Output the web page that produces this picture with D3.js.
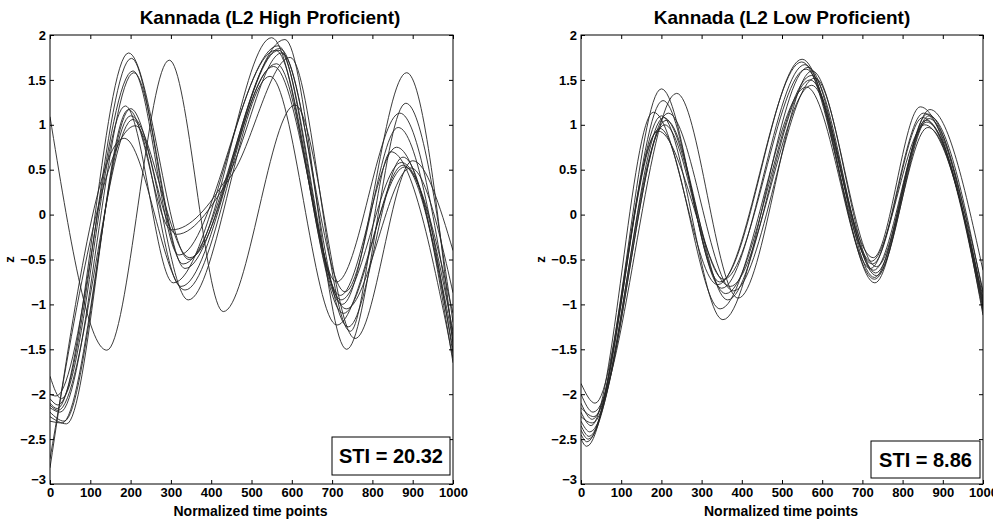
<!DOCTYPE html>
<html>
<head>
<meta charset="utf-8">
<script src="https://cdn.jsdelivr.net/npm/d3@7"></script>
<style>
  body { margin: 0; background: #fff; }
  svg { display: block; font-family: "Liberation Sans", Arial, sans-serif; font-weight: bold; }
</style>
</head>
<body>
<svg id="chart"></svg>
<script>
const width = 993;
const height = 519;

// panel titles and STI values
const titles = ["Kannada (L2 High Proficient)", "Kannada (L2 Low Proficient)"];
const stiValues = ["20.32", "8.86"];
const xLabel = "Normalized time points";
const yLabel = "z";

const xTicks = [0, 100, 200, 300, 400, 500, 600, 700, 800, 900, 1000];
const yTicks = [2, 1.5, 1, 0.5, 0, -0.5, -1, -1.5, -2, -2.5, -3];

// key points (time, z) of each contour: start, turning points, end
const highCurves = [
  [[0, -2.10], [18, -2.16], [195, 1.80], [345, -0.50], [550, 1.97], [725, -1.00], [885, 1.58], [1000, -1.45]],
  [[0, -2.05], [20, -2.12], [202, 1.74], [330, -0.55], [583, 1.95], [736, -1.50], [883, 1.24], [1000, -1.20]],
  [[0, -2.00], [15, -2.02], [206, 1.60], [320, -0.45], [566, 1.88], [711, -0.75], [868, 1.13], [1000, -1.35]],
  [[0, -2.15], [25, -2.20], [208, 1.58], [335, -0.60], [570, 1.85], [732, -0.86], [864, 0.97], [1000, -1.55]],
  [[0, -1.80], [28, -2.05], [187, 1.21], [306, -0.76], [560, 1.83], [720, -0.90], [860, 0.75], [1000, -1.40]],
  [[0, -2.20], [35, -2.30], [200, 1.18], [314, -0.22], [455, 0.47], [596, 1.75], [745, -1.30], [846, 0.70], [1000, -1.60]],
  [[0, -2.25], [41, -2.33], [195, 1.17], [302, -0.17], [440, 0.42], [575, 1.80], [740, -1.25], [876, 0.64], [1000, -1.65]],
  [[0, -2.12], [20, -2.18], [206, 1.06], [325, -0.80], [562, 1.68], [728, -1.10], [876, 0.55], [1000, -1.50]],
  [[0, -2.72], [212, 0.99], [343, -0.95], [546, 1.54], [712, -1.23], [880, 0.53], [1000, -1.30]],
  [[0, -2.82], [184, 0.85], [335, -0.84], [555, 1.65], [735, -1.05], [895, 0.52], [1000, -0.87]],
  [[0, -2.30], [30, -2.32], [200, 1.10], [347, -0.48], [568, 1.83], [722, -0.95], [872, 0.58], [1000, -1.10]],
  [[0, 1.09], [141, -1.51], [296, 1.72], [430, -1.08], [608, 1.22], [757, -1.38], [900, 0.60], [1000, -0.40]]
];

const lowCurves = [
  [[0, -1.88], [35, -2.10], [200, 1.40], [345, -0.75], [550, 1.73], [727, -0.48], [844, 1.20], [1000, -1.00]],
  [[0, -2.00], [30, -2.20], [238, 1.35], [391, -0.93], [575, 1.60], [735, -0.58], [868, 1.17], [1000, -0.62]],
  [[0, -2.10], [28, -2.28], [204, 1.27], [350, -0.82], [557, 1.67], [731, -0.76], [862, 1.12], [1000, -1.12]],
  [[0, -2.20], [25, -2.35], [180, 1.14], [340, -0.78], [549, 1.70], [725, -0.55], [850, 1.08], [1000, -0.95]],
  [[0, -2.30], [22, -2.42], [217, 1.13], [379, -0.85], [582, 1.52], [733, -0.65], [866, 1.10], [1000, -0.88]],
  [[0, -2.35], [20, -2.47], [200, 1.10], [353, -1.17], [565, 1.64], [730, -0.70], [858, 1.05], [1000, -1.05]],
  [[0, -2.40], [18, -2.50], [208, 1.00], [360, -0.88], [574, 1.55], [728, -0.62], [860, 1.03], [1000, -1.02]],
  [[0, -2.45], [15, -2.53], [196, 0.96], [346, -1.05], [561, 1.42], [730, -0.72], [863, 0.97], [1000, -1.08]],
  [[0, -2.50], [14, -2.58], [192, 0.93], [371, -0.80], [574, 1.44], [722, -0.52], [855, 1.00], [1000, -0.92]],
  [[0, -2.25], [28, -2.32], [212, 1.05], [365, -0.95], [570, 1.50], [735, -0.68], [865, 1.07], [1000, -0.98]],
  [[0, -2.15], [32, -2.25], [206, 1.08], [355, -0.72], [560, 1.62], [720, -0.60], [852, 1.13], [1000, -0.85]]
];

const svg = d3.select("#chart").attr("width", width).attr("height", height);
svg.append("rect").attr("width", width).attr("height", height).attr("fill", "#fff");

const panels = [
  { left: 50, right: 453, curves: highCurves, title: titles[0], titleX: 270, sti: stiValues[0], box: [332, 437, 118, 38] },
  { left: 581, right: 983, curves: lowCurves, title: titles[1], titleX: 782, sti: stiValues[1], box: [871, 441, 109, 37] }
];
const plotTop = 35, plotBottom = 484;

panels.forEach(function (p, i) {
  const x = d3.scaleLinear().domain([0, 1000]).range([p.left, p.right]);
  const y = d3.scaleLinear().domain([-3, 2]).range([plotBottom, plotTop]);
  const g = svg.append("g");

  g.append("clipPath").attr("id", "clip" + i)
    .append("rect")
    .attr("x", p.left).attr("y", plotTop)
    .attr("width", p.right - p.left).attr("height", plotBottom - plotTop);

  // contours
  const line = d3.line()
    .x(d => x(d[0]))
    .y(d => y(d[1]))
    .curve(d3.curveMonotoneX);

  g.append("g")
    .attr("clip-path", "url(#clip" + i + ")")
    .selectAll("path")
    .data(p.curves)
    .enter()
    .append("path")
    .attr("d", line)
    .attr("fill", "none")
    .attr("stroke", "#262626")
    .attr("stroke-width", 0.9);

  // axes, ticks inside like matlab
  const tick = 4;
  const axB = g.append("g").attr("transform", `translate(0,${plotBottom})`)
    .call(d3.axisBottom(x).tickValues(xTicks).tickSize(-tick).tickPadding(4).tickFormat(d3.format("d")));
  const axT = g.append("g").attr("transform", `translate(0,${plotTop})`)
    .call(d3.axisTop(x).tickValues(xTicks).tickSize(-tick).tickFormat(""));
  const axL = g.append("g").attr("transform", `translate(${p.left},0)`)
    .call(d3.axisLeft(y).tickValues(yTicks).tickSize(-tick).tickPadding(4).tickFormat(d3.format("")));
  const axR = g.append("g").attr("transform", `translate(${p.right},0)`)
    .call(d3.axisRight(y).tickValues(yTicks).tickSize(-tick).tickFormat(""));

  [axB, axT, axL, axR].forEach(function (ax) {
    ax.select(".domain").remove();
    ax.selectAll("line").attr("stroke", "#000");
    ax.selectAll("text")
      .attr("fill", "#000")
      .style("font-family", "'Liberation Sans', Arial, sans-serif")
      .style("font-weight", "bold")
      .style("font-size", "13px");
  });
  axB.selectAll("text").attr("dy", "0.7em");
  axL.selectAll("text").filter(d => d === -3).attr("dy", "-0.05em");

  g.append("rect")
    .attr("x", p.left).attr("y", plotTop)
    .attr("width", p.right - p.left).attr("height", plotBottom - plotTop)
    .attr("fill", "none").attr("stroke", "#000").attr("stroke-width", 1);

  // title
  g.append("text")
    .attr("x", p.titleX)
    .attr("y", 24)
    .attr("text-anchor", "middle")
    .style("font-size", "19px")
    .text(p.title);

  // x label
  g.append("text")
    .attr("x", (p.left + p.right) / 2 - 1)
    .attr("y", 516)
    .attr("text-anchor", "middle")
    .style("font-size", "14px")
    .text(xLabel);

  // y label
  g.append("text")
    .attr("transform", `translate(${p.left - 36},${y(-0.5)}) rotate(-90)`)
    .attr("text-anchor", "middle")
    .style("font-size", "13px")
    .text(yLabel);

  // STI box
  const [bx, by, bw, bh] = p.box;
  g.append("rect")
    .attr("x", bx).attr("y", by).attr("width", bw).attr("height", bh)
    .attr("fill", "#fff").attr("stroke", "#000").attr("stroke-width", 1);
  g.append("text")
    .attr("x", bx + bw / 2)
    .attr("y", by + bh / 2 + 7)
    .attr("text-anchor", "middle")
    .style("font-size", "20px")
    .text("STI = " + p.sti);
});
</script>
</body>
</html>
